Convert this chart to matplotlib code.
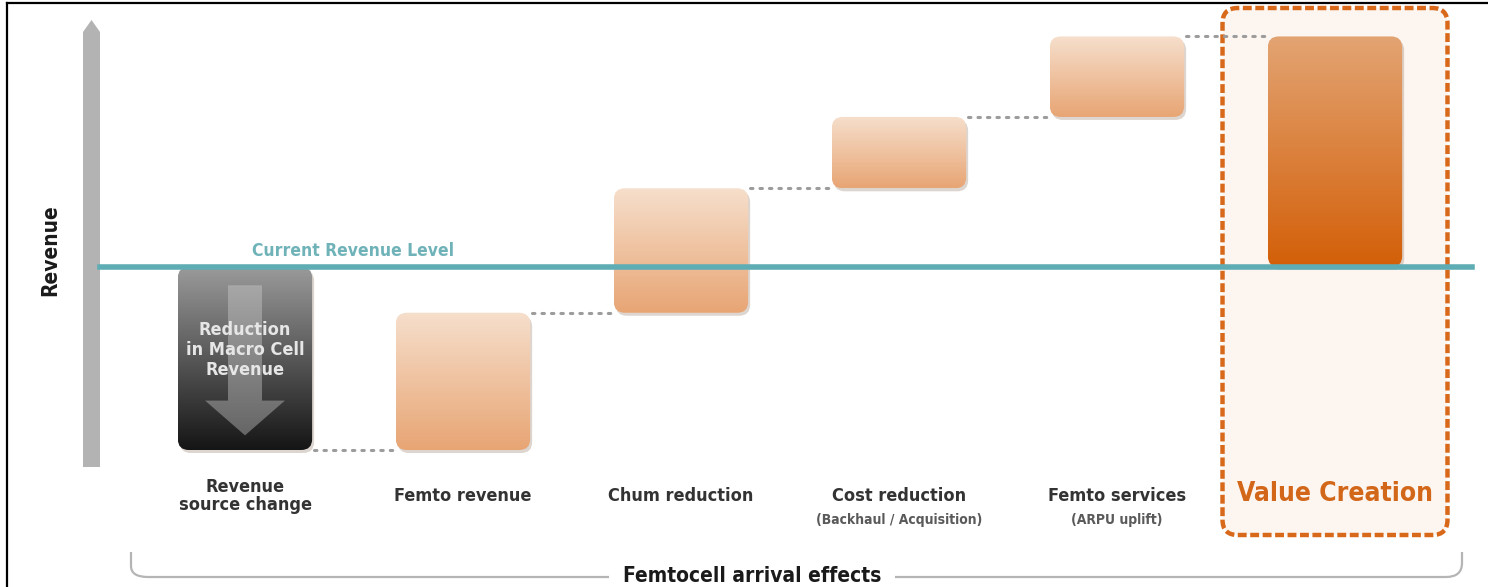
import matplotlib.pyplot as plt
import numpy as np
from matplotlib.patches import FancyBboxPatch, Polygon, PathPatch
from matplotlib.path import Path
from matplotlib.colors import to_rgb
from matplotlib.lines import Line2D

plt.rcParams['font.family'] = ['DejaVu Sans']
plt.rcParams['font.stretch'] = 'condensed'

# --- data -------------------------------------------------------------
categories = ['Revenue\nsource change', 'Femto revenue', 'Chum reduction',
              'Cost reduction', 'Femto services', 'Value Creation']
sublabels = ['', '', '', '(Backhaul / Acquisition)', '(ARPU uplift)', '']
current_level = 100
changes = [-100, 75, 68, 39, 44]      # waterfall steps, revenue units
box_text = 'Reduction\nin Macro Cell\nRevenue'

levels = current_level + np.cumsum(changes)
starts = np.concatenate([[current_level], levels[:-1]])

# --- layout: category i centred at 245 + 218*i px, revenue 0 at 450 px ---
W, H = 1488, 587
X0, DX = 245, 218
Y0, DY = 450, 1.83
ASP = DX / DY


def px(x):
    return (x - X0) / DX


def py(y):
    return (Y0 - y) / DY


fig = plt.figure(figsize=(W / 100, H / 100), dpi=100)
ax = fig.add_axes([0, 0, 1, 1])
ax.axis('off')

hw = 0.308   # half width of a box


def rbox(x0, y0, w, h, r=0.05, **kw):
    return FancyBboxPatch((x0, y0), w, h,
                          boxstyle='round,pad=0,rounding_size=%g' % r,
                          mutation_aspect=ASP, **kw)


def grad_box(xc, lo, hi, c_top, c_bot, z=3):
    x0, w, h = xc - hw, 2 * hw, hi - lo
    ax.add_patch(rbox(x0 + 2 / DX, lo - 3 / DY, w, h, fc='#7a5a40',
                      alpha=0.25, ec='none', zorder=z - 0.5))
    clip = rbox(x0, lo, w, h, fc='none', ec='none', zorder=z)
    ax.add_patch(clip)
    t = np.linspace(0, 1, 256)[:, None, None]
    img = np.array(to_rgb(c_bot)) * (1 - t) + np.array(to_rgb(c_top)) * t
    im = ax.imshow(img, extent=(x0, x0 + w, lo, hi), origin='lower',
                   aspect='auto', interpolation='bilinear', zorder=z)
    im.set_clip_path(clip)


# value creation highlight frame
vc = len(categories) - 1
ax.add_patch(rbox(vc - 0.516, py(535), 1.032, py(8) - py(535), r=0.07,
                  fc='#fdf5f0', ec='#d8691b', lw=3.2,
                  ls=(0, (2.0, 0.8)), zorder=1))

# waterfall boxes
for i, (s, e) in enumerate(zip(starts, levels)):
    lo, hi = min(s, e), max(s, e)
    if changes[i] < 0:
        grad_box(i, lo, hi, '#9a9a9a', '#151515')
    else:
        grad_box(i, lo, hi, '#f6dfcc', '#e8a574')
grad_box(vc, current_level, levels[-1], '#e3a473', '#d35f08')

# arrow inside the reduction box
mid = (starts[0] + levels[0]) / 2
ax.add_patch(Polygon([(-0.078, starts[0] - 10), (0.078, starts[0] - 10),
                      (0.078, levels[0] + 27), (0.183, levels[0] + 27),
                      (0, levels[0] + 8), (-0.183, levels[0] + 27),
                      (-0.078, levels[0] + 27)],
                     closed=True, fc='#d0d0d0', alpha=0.4, ec='none', zorder=4))
ax.text(0, mid + 4.5, box_text, ha='center', va='center', fontsize=13,
        weight='bold', color='#e6e6e6', linespacing=1.15, zorder=6)

# dotted connectors
for i, lv in enumerate(levels):
    ax.plot([i + hw + 0.01, i + 1 - hw - 0.01], [lv, lv], color='#9c9c9c',
            lw=2.2, ls=(0, (0.8, 2.3)), dash_capstyle='round', zorder=2)

# current revenue level
ax.axhline(current_level, xmin=100 / W, xmax=1472 / W, color='#5fadb4',
           lw=4, zorder=5)
ax.text(px(353), current_level + 9, 'Current Revenue Level', ha='center',
        va='center', fontsize=12.5, weight='bold', color='#6fb3b9')

# category labels
for i, (cat, sub) in enumerate(zip(categories, sublabels)):
    if i == vc:
        ax.text(i, py(494), cat, ha='center', va='center', fontsize=19,
                weight='bold', color='#d2671a')
        continue
    ax.text(i, py(496), cat, ha='center', va='center', fontsize=13,
            weight='bold', color='#333333', linespacing=1.0)
    if sub:
        ax.text(i, py(520), sub, ha='center', va='center', fontsize=10,
                weight='bold', color='#5a5a5a')

# revenue axis arrow and label
ax.add_patch(Polygon([(px(83), py(467)), (px(83), py(32)), (px(91.5), py(20)),
                      (px(100), py(32)), (px(100), py(467))],
                     closed=True, fc='#b3b3b3', ec='none', zorder=2))
ax.text(px(50), py(250), 'Revenue', rotation=90, ha='center', va='center',
        fontsize=15, weight='bold', color='#1a1a1a')

# bottom bracket
verts = [(px(131), py(552)), (px(131), py(566)), (px(131), py(577)),
         (px(148), py(577)), (px(1446), py(577)), (px(1462), py(577)),
         (px(1462), py(563)), (px(1462), py(552))]
codes = [Path.MOVETO, Path.LINETO, Path.CURVE3, Path.CURVE3, Path.LINETO,
         Path.CURVE3, Path.CURVE3, Path.LINETO]
ax.add_patch(PathPatch(Path(verts, codes), fc='none', ec='#b5b5b5', lw=1.6,
                       zorder=2))
ax.text(px(752), py(576), 'Femtocell arrival effects', ha='center',
        va='center', fontsize=15, weight='bold', color='#1a1a1a', zorder=3,
        bbox=dict(fc='white', ec='none', pad=10))

ax.set_xlim(px(0), px(W))
ax.set_ylim(py(H), py(0))

# frame (left and top only, as cropped)
fig.add_artist(Line2D([7 / W, 7 / W], [0, 1 - 3 / H], color='k', lw=1.6))
fig.add_artist(Line2D([7 / W, 1], [1 - 3 / H, 1 - 3 / H], color='k', lw=1.6))

fig.savefig('out.png', dpi=100)
